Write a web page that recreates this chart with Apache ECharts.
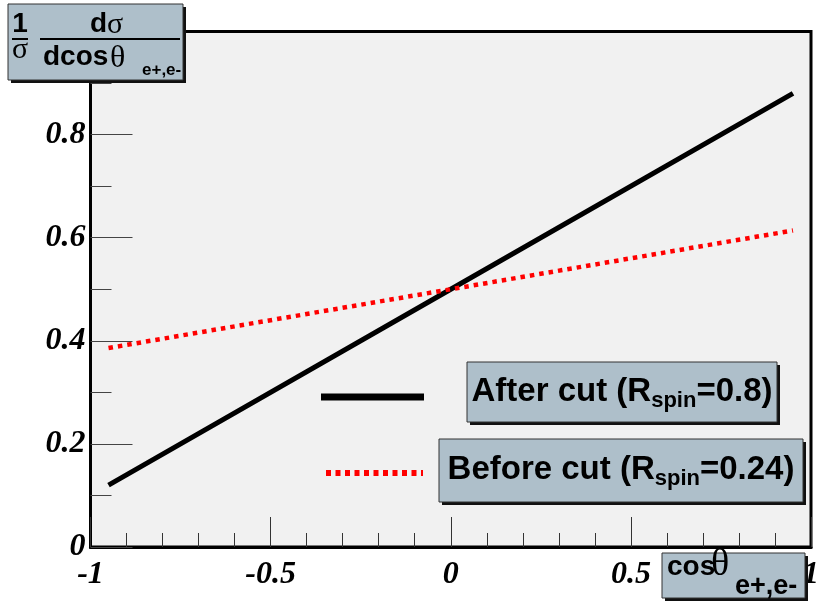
<!DOCTYPE html>
<html>
<head>
<meta charset="utf-8">
<style>
  html, body { margin: 0; padding: 0; background: #ffffff; }
  #chart { width: 822px; height: 605px; }
</style>
<script src="https://cdn.jsdelivr.net/npm/echarts@6/dist/echarts.min.js"></script>
</head>
<body>
<div id="chart"></div>
<script>
// Normalised angular distribution (1/sigma) dsigma/dcos(theta) for e+e- pairs
const cosTheta = [-0.95, 0, 0.95];
const afterCut = [0.12, 0.5, 0.88];     // R_spin = 0.8
const beforeCut = [0.386, 0.5, 0.614];  // R_spin = 0.24

const xTickValues = [-1, -0.5, 0, 0.5, 1];
const yTickValues = [0, 0.2, 0.4, 0.6, 0.8];

const BOX_FILL = '#aebfca';
const BOX_EDGE = '#333333';
const SANS = 'Liberation Sans';
const SERIF = 'Liberation Serif';

const toPairs = (xs, ys) => xs.map((x, i) => [x, ys[i]]);

const tickFont = {
  fontFamily: SERIF, fontWeight: 'bold', fontStyle: 'italic',
  fontSize: 32, color: '#000'
};

// a labelled box with a hard drop shadow
function pave(x, y, w, h, children) {
  return {
    type: 'group', z: 100,
    children: [
      { type: 'rect', z: 100, shape: { x: x + 3, y: y + 3, width: w, height: h }, style: { fill: '#111' } },
      { type: 'rect', z: 100, shape: { x: x, y: y, width: w, height: h }, style: { fill: BOX_FILL, stroke: BOX_EDGE, lineWidth: 1 } }
    ].concat(children)
  };
}

function txt(x, y, text, family, size, weight, align) {
  return {
    type: 'text', z: 101,
    style: {
      x: x, y: y, text: text, fill: '#000',
      fontFamily: family, fontSize: size, fontWeight: weight || 'bold',
      textAlign: align || 'left', textVerticalAlign: 'middle'
    }
  };
}

function bar(x1, x2, y) {
  return { type: 'line', z: 101, shape: { x1: x1, y1: y, x2: x2, y2: y }, style: { stroke: '#000', lineWidth: 2 } };
}

function legendLabel(cx, cy, head, tail) {
  return {
    type: 'text', z: 101,
    style: {
      x: cx, y: cy, textAlign: 'center', textVerticalAlign: 'middle',
      text: '{n|' + head + '}{s|spin}{n|' + tail + '}',
      rich: {
        n: { fontFamily: SANS, fontWeight: 'bold', fontSize: 33, lineHeight: 40, fill: '#000', color: '#000' },
        s: { fontFamily: SANS, fontWeight: 'bold', fontSize: 22, lineHeight: 18, verticalAlign: 'bottom', fill: '#000', color: '#000' }
      }
    }
  };
}

const chart = echarts.init(document.getElementById('chart'), null, { renderer: 'canvas' });

chart.setOption({
  animation: false,
  backgroundColor: '#ffffff',
  grid: {
    left: 90.5, top: 31.5, width: 726, height: 515.5,
    show: true, backgroundColor: '#f1f1f1',
    borderColor: '#000', borderWidth: 3
  },
  xAxis: {
    type: 'value', min: -1, max: 1, interval: 0.5,
    axisLine: { show: true, onZero: false, lineStyle: { color: '#000', width: 3 } },
    axisTick: { show: true, inside: true, length: 30, lineStyle: { color: '#333', width: 1 } },
    minorTick: { show: true, splitNumber: 5, length: 14, lineStyle: { color: '#333', width: 1 } },
    splitLine: { show: false },
    axisLabel: Object.assign({ margin: 12, showMinLabel: true, showMaxLabel: true,
      formatter: v => xTickValues.includes(+v.toFixed(2)) ? String(+v.toFixed(2)) : '' }, tickFont)
  },
  yAxis: {
    type: 'value', min: 0, max: 1, interval: 0.2,
    axisLine: { show: true, onZero: false, lineStyle: { color: '#000', width: 3 } },
    axisTick: { show: true, inside: true, length: 42, lineStyle: { color: '#444', width: 1 } },
    minorTick: { show: true, splitNumber: 2, length: 21, lineStyle: { color: '#444', width: 1 } },
    splitLine: { show: false },
    axisLabel: Object.assign({ margin: 5, padding: [8, 0, 0, 0],
      formatter: v => yTickValues.includes(+v.toFixed(2)) ? String(+v.toFixed(2)) : '' }, tickFont)
  },
  series: [
    {
      name: 'After cut', type: 'line', data: toPairs(cosTheta, afterCut),
      showSymbol: false, silent: true,
      lineStyle: { color: '#000', width: 5, cap: 'butt' }
    },
    {
      name: 'Before cut', type: 'line', data: toPairs(cosTheta, beforeCut),
      showSymbol: false, silent: true,
      lineStyle: { color: '#ff0000', width: 4.5, type: [4.5, 5], cap: 'butt' }
    }
  ],
  graphic: [
    // y-axis title
    pave(8, 4, 175, 76, [
      txt(20, 24, '1', SANS, 28, 'bold', 'center'),
      bar(12, 28, 39),
      txt(20, 50, 'σ', SERIF, 30, 'normal', 'center'),
      txt(90, 24, 'd', SANS, 28, 'bold'),
      txt(107, 25, 'σ', SERIF, 30, 'normal'),
      bar(40, 180, 39),
      txt(43, 57, 'dcos', SANS, 28, 'bold'),
      txt(110, 59, 'θ', SERIF, 32, 'normal'),
      txt(142, 70, 'e+,e-', SANS, 17, 'bold')
    ]),
    // x-axis title
    pave(662, 553, 143, 45, [
      txt(667, 567, 'cos', SANS, 28, 'bold'),
      txt(711, 565, 'θ', SERIF, 38, 'normal'),
      txt(735, 587, 'e+,e-', SANS, 27, 'bold')
    ]),
    // legend markers
    { type: 'line', z: 100, shape: { x1: 321, y1: 397, x2: 424, y2: 397 }, style: { stroke: '#000', lineWidth: 7 } },
    { type: 'line', z: 100, shape: { x1: 326, y1: 473, x2: 423, y2: 473 }, style: { stroke: '#ff0000', lineWidth: 6, lineDash: [5, 4.5] } },
    // legend labels
    pave(467, 362, 310, 60, [legendLabel(622, 392, 'After cut (R', '=0.8)')]),
    pave(439, 439, 364, 63, [legendLabel(621, 470, 'Before cut (R', '=0.24)')])
  ]
});
</script>
</body>
</html>
